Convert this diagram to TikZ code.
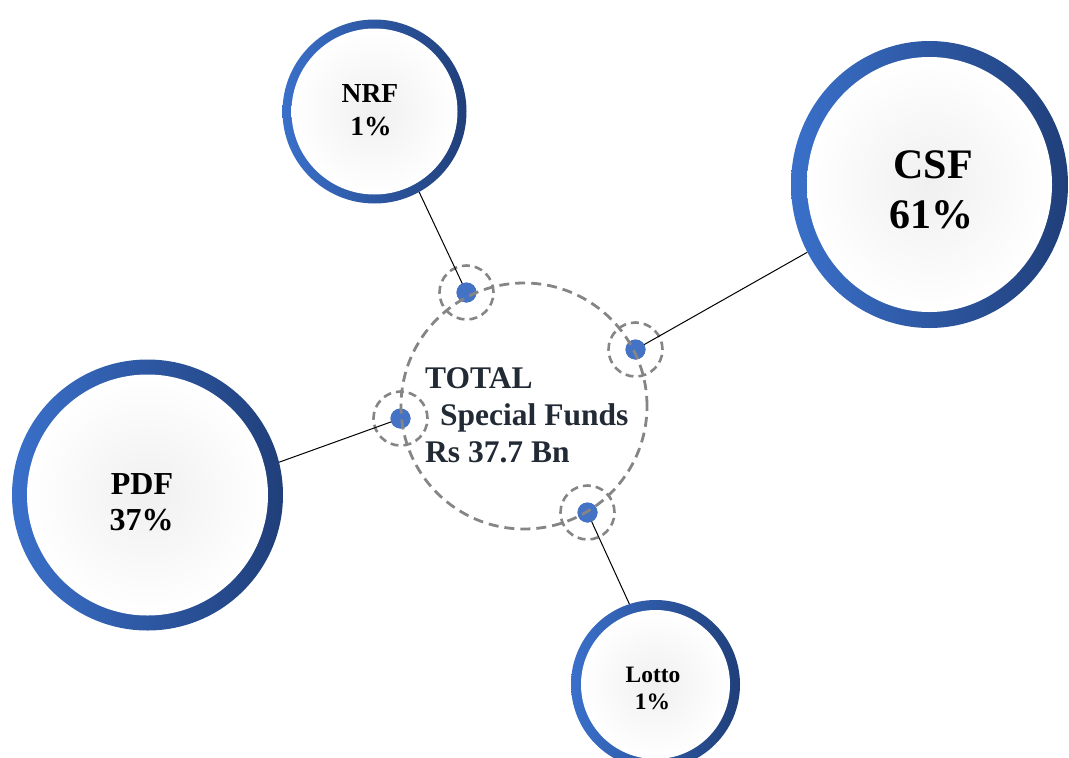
\documentclass[tikz,border=0pt]{standalone}
\usepackage{fontspec}
\setmainfont{Liberation Serif}
\usetikzlibrary{shapes.geometric}
\definecolor{ringL}{HTML}{3A70CA}
\definecolor{ringR}{HTML}{203F7A}
\definecolor{dotblue}{HTML}{4472C4}
\definecolor{dashgray}{HTML}{858585}
\definecolor{txtdark}{HTML}{222A35}
\begin{document}
\begin{tikzpicture}[x=1pt,y=-1pt,
  ringshade/.style={left color=ringL,right color=ringR},
  innershade/.style={inner color=black!6,outer color=white},
  anchorbox/.style={circle,inner sep=0pt},
  dotnode/.style={circle,fill=dotblue,minimum size=20pt,inner sep=0pt},
  dashring/.style={draw=dashgray,line width=2.8pt,dash pattern=on 10pt off 6pt},
  smallring/.style={draw=dashgray,line width=2.6pt,dash pattern=on 8pt off 5pt},
  link/.style={draw=black,line width=1pt},
  lbl/.style={font=\bfseries,anchor=base,inner sep=0pt},
  ctext/.style={font=\bfseries\fontsize{31.5}{36}\selectfont,text=txtdark,anchor=base west,inner sep=0pt}
]
\useasboundingbox (0,0) rectangle (1069,758);

% outer bubbles
\shade[ringshade] (374.5,111.5) circle (92pt);
\shade[innershade] (374.5,111.5) circle (83pt);
\node[anchorbox,minimum size=184pt] (nrf) at (374.5,111.5) {};

\shade[ringshade] (929.5,184.5) ellipse [x radius=138.5pt,y radius=143.5pt];
\shade[innershade] (929.5,184.5) ellipse [x radius=122.5pt,y radius=127.5pt];
\node[ellipse,inner sep=0pt,minimum width=277pt,minimum height=287pt] (csf) at (929.5,184.5) {};

\shade[ringshade] (147.5,495) circle (135.5pt);
\shade[innershade] (147.5,495) circle (120.5pt);
\node[anchorbox,minimum size=271pt] (pdf) at (147.5,495) {};

\shade[ringshade] (655.5,684.5) circle (84.5pt);
\shade[innershade] (655.5,684.5) circle (74.5pt);
\node[anchorbox,minimum size=169pt] (lotto) at (655.5,684.5) {};

% small dashed rings
\draw[smallring] (466.5,292.5) circle (27pt);
\draw[smallring] (635.5,349.5) circle (27pt);
\draw[smallring] (400.5,418.5) circle (27pt);
\draw[smallring] (587.5,512.5) circle (27pt);

% dots
\node[dotnode] (dnrf) at (466.5,292.5) {};
\node[dotnode] (dcsf) at (635.5,349.5) {};
\node[dotnode] (dpdf) at (400.5,418.5) {};
\node[dotnode] (dlotto) at (587.5,512.5) {};

% connectors
\draw[link] (dnrf.center) -- (nrf.-61);
\draw[link] (dcsf.center) -- (csf.-151);
\draw[link] (dpdf.center) -- (pdf.14.5);
\draw[link] (dlotto.center) -- (lotto.108);
\node[dotnode] at (dnrf) {};
\node[dotnode] at (dcsf) {};
\node[dotnode] at (dpdf) {};
\node[dotnode] at (dlotto) {};

% central dashed ring
\node[circle,dashring,minimum size=246pt,inner sep=0pt] (total) at (524,406) {};

% central text
\node[ctext] (t1) at (425,388) {TOTAL};
\node[ctext] (t2) at (440,425) {Special Funds};
\node[ctext] (t3) at (425,462) {Rs 37.7 Bn};

% labels
\node[lbl,font=\bfseries\fontsize{27.5}{30}\selectfont] (nrfa) at (370,102) {NRF};
\node[lbl,font=\bfseries\fontsize{27.5}{30}\selectfont] (nrfb) at (371,135) {1\%};
\node[lbl,font=\bfseries\fontsize{42}{46}\selectfont] (csfa) at (933,178) {CSF};
\node[lbl,font=\bfseries\fontsize{42}{46}\selectfont] (csfb) at (931.5,228) {61\%};
\node[lbl,font=\bfseries\fontsize{32}{36}\selectfont] (pdfa) at (142,494) {PDF};
\node[lbl,font=\bfseries\fontsize{32}{36}\selectfont] (pdfb) at (141.5,530) {37\%};
\node[lbl,font=\bfseries\fontsize{23.5}{26}\selectfont] (lottoa) at (653,682) {Lotto};
\node[lbl,font=\bfseries\fontsize{23.5}{26}\selectfont] (lottob) at (652.5,709) {1\%};
\end{tikzpicture}
\end{document}
